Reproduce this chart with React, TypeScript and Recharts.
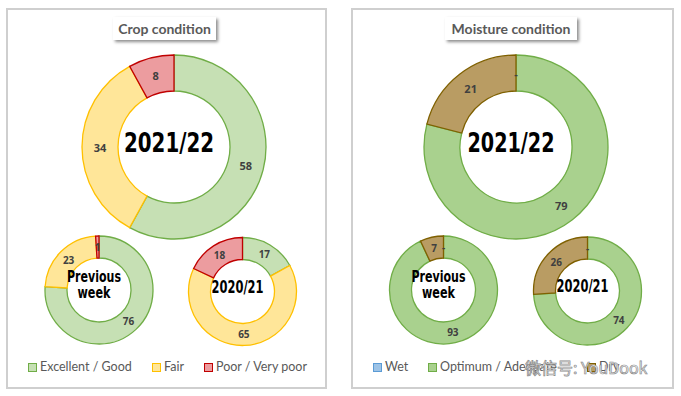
import React from 'react';
import { PieChart, Pie, Cell, Label } from 'recharts';

const cropCategories = ['Excellent / Good', 'Fair', 'Poor / Very poor'];
const cropCurrent = [58, 34, 8];
const cropPrevWeek = [76, 23, 1];
const cropLastYear = [17, 65, 18];

const moistureCategories = ['Wet', 'Optimum / Adequate', 'Dry'];
const moistureCurrent = [0, 79, 21];
const moisturePrevWeek = [0, 93, 7];
const moistureLastYear = [0, 74, 26];

const cropTitle = 'Crop condition';
const moistureTitle = 'Moisture condition';
const currentLabel = ['2021/22'];
const prevLabel = ['Previous', 'week'];
const lastYearLabel = ['2020/21'];
const watermark = '微信号: YouDook';

const cropFills = ['#c6e0b4', '#ffe699', '#ec9c9f'];
const cropStrokes = ['#70ad47', '#ffc000', '#c00000'];
const moistFills = ['#9dc3e6', '#a9d18e', '#b99c63'];
const moistStrokes = ['#5b9bd5', '#70ad47', '#7f6000'];

const RAD = Math.PI / 180;
const toData = (cats: string[], vals: number[]) => cats.map((name, i) => ({ name, value: vals[i] }));

const makeLabel = (fontSize: number) => (props: any) => {
  const { cx, cy, midAngle, innerRadius, outerRadius, value } = props;
  const r = (innerRadius + outerRadius) / 2;
  const x = cx + r * Math.cos(-midAngle * RAD);
  const y = cy + r * Math.sin(-midAngle * RAD);
  return (
    <text x={x} y={y} textAnchor="middle" dominantBaseline="central" fill="#404040"
      fontSize={fontSize} fontWeight={700} fontFamily="'Open Sans', sans-serif">
      {value === 0 ? '-' : value}
    </text>
  );
};

type Ring = {
  cats: string[]; vals: number[]; fills: string[]; strokes: string[];
  cx: number; cy: number; inner: number; outer: number; lab: number;
  center: string[]; cfs: number; cw: number[]; gap: number;
};

const centerContent = (ring: Ring) => (props: any) => {
  const vb = props.viewBox || {};
  const cx = typeof vb.cx === 'number' ? vb.cx : ring.cx;
  const cy = typeof vb.cy === 'number' ? vb.cy : ring.cy;
  const lines = ring.center;
  const n = lines.length;
  return (
    <g>
      {lines.map((l, i) => (
        <text key={i} x={cx} y={cy + (i - (n - 1) / 2) * ring.gap} textAnchor="middle" dominantBaseline="central"
          fill="#000" fontSize={ring.cfs} fontWeight={700} fontFamily="'DejaVu Sans Condensed', 'DejaVu Sans', sans-serif"
          textLength={ring.cw[i]} lengthAdjust="spacingAndGlyphs">
          {l}
        </text>
      ))}
    </g>
  );
};

const rings: Ring[] = [
  { cats: cropCategories, vals: cropCurrent, fills: cropFills, strokes: cropStrokes, cx: 169, cy: 142, inner: 56, outer: 92, lab: 11, center: currentLabel, cfs: 27, cw: [90], gap: 0 },
  { cats: cropCategories, vals: cropPrevWeek, fills: cropFills, strokes: cropStrokes, cx: 94, cy: 285, inner: 32, outer: 54, lab: 10, center: prevLabel, cfs: 15, cw: [54, 33], gap: 16 },
  { cats: cropCategories, vals: cropLastYear, fills: cropFills, strokes: cropStrokes, cx: 237.5, cy: 286.5, inner: 32, outer: 54, lab: 10, center: lastYearLabel, cfs: 17, cw: [52], gap: 0 },
  { cats: moistureCategories, vals: moistureCurrent, fills: moistFills, strokes: moistStrokes, cx: 511, cy: 142, inner: 56, outer: 92, lab: 11, center: currentLabel, cfs: 27, cw: [87], gap: 0 },
  { cats: moistureCategories, vals: moisturePrevWeek, fills: moistFills, strokes: moistStrokes, cx: 438.5, cy: 285, inner: 32, outer: 54, lab: 10, center: prevLabel, cfs: 15, cw: [54, 33], gap: 16 },
  { cats: moistureCategories, vals: moistureLastYear, fills: moistFills, strokes: moistStrokes, cx: 582.5, cy: 286, inner: 32, outer: 54, lab: 10, center: lastYearLabel, cfs: 17, cw: [52], gap: 0 },
];

const legendFont = "Lato, 'Open Sans', sans-serif";

const LegendRow = ({ cats, fills, strokes, xs, textXs, y }: any) => (
  <>
    {cats.map((c: string, i: number) => (
      <React.Fragment key={c}>
        <div style={{ position: 'absolute', left: xs[i], top: y - 4, width: 7, height: 7, background: fills[i], border: `1px solid ${strokes[i]}` }} />
        <div style={{ position: 'absolute', left: textXs[i], top: y - 9, fontFamily: legendFont, fontSize: 12.5, color: '#595959', lineHeight: '18px', whiteSpace: 'nowrap' }}>{c}</div>
      </React.Fragment>
    ))}
  </>
);

const TitleBox = ({ text, left, width }: any) => (
  <div style={{ position: 'absolute', left, top: 17, width, height: 23, background: '#fff', boxShadow: '2px 2px 3px rgba(0,0,0,0.45)', display: 'flex', alignItems: 'center', justifyContent: 'center', fontFamily: legendFont, fontWeight: 700, fontSize: 14, color: '#595959' }}>
    {text}
  </div>
);

export default function App() {
  return (
    <div style={{ position: 'absolute', left: 0, top: 0, width: 681, height: 396, background: '#fff', overflow: 'hidden' }}>
      <div style={{ position: 'absolute', left: 6, top: 8, width: 317, height: 377, border: '2px solid #cfcfcf' }} />
      <div style={{ position: 'absolute', left: 351, top: 8, width: 319, height: 377, border: '2px solid #cfcfcf' }} />
      <div style={{ position: 'absolute', left: 0, top: 0 }}>
        <PieChart width={681} height={396}>
          {rings.map((r, k) => (
            <Pie key={k} data={toData(r.cats, r.vals)} dataKey="value" nameKey="name" cx={r.cx} cy={r.cy}
              innerRadius={r.inner} outerRadius={r.outer} startAngle={90} endAngle={-270}
              isAnimationActive={false} label={makeLabel(r.lab)} labelLine={false}>
              {r.vals.map((_, i) => (
                <Cell key={i} fill={r.fills[i]} stroke={r.strokes[i]} strokeWidth={1.3} />
              ))}
              <Label position="center" content={centerContent(r)} />
            </Pie>
          ))}
        </PieChart>
      </div>
      <TitleBox text={cropTitle} left={113} width={103} />
      <TitleBox text={moistureTitle} left={445} width={132} />
      <LegendRow cats={cropCategories} fills={cropFills} strokes={cropStrokes} xs={[28, 152, 204]} textXs={[40, 164, 216]} y={367} />
      <LegendRow cats={moistureCategories} fills={moistFills} strokes={moistStrokes} xs={[373, 428, 587]} textXs={[385, 440, 599]} y={367} />
      <div style={{ position: 'absolute', left: 525, top: 356, fontFamily: "'Noto Sans CJK SC', sans-serif", fontSize: 16, color: '#fff', WebkitTextStroke: '0.7px #8a8a8a', whiteSpace: 'nowrap', lineHeight: '22px' }}>
        {watermark}
      </div>
    </div>
  );
}
